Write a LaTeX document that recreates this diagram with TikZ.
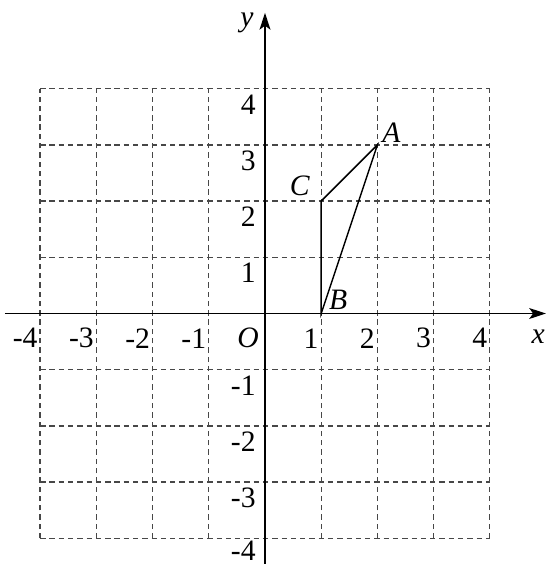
\documentclass[tikz,border=0pt]{standalone}
\usepackage{fontspec}
\setmainfont{Liberation Serif}
\usetikzlibrary{arrows.meta}
\begin{document}
\begin{tikzpicture}[x=1cm,y=1cm,
  gridline/.style={draw=black!72, line width=0.7pt, dash pattern=on 2.7pt off 2pt},
  axisline/.style={draw=black, line width=0.9pt, -{Stealth[length=8.5pt,width=5.5pt,inset=2pt]}},
  edge/.style={draw=black, line width=0.75pt},
  tick/.style={font=\fontsize{15pt}{17pt}\selectfont, inner sep=0pt},
  lab/.style={font=\fontsize{15pt}{17pt}\selectfont\itshape, inner sep=0pt}]
\useasboundingbox (-4.715,-4.457) rectangle (5.071,5.578);
% grid
\foreach \i in {-4,...,4} {
  \draw[gridline] (\i,-4) -- (\i,4);
  \draw[gridline] (-4,\i) -- (4,\i);
}
% axes
\coordinate (xs) at (-4.63,0);
\coordinate (xe) at (5.0,0);
\coordinate (ys) at (0,-4.46);
\coordinate (ye) at (0,5.35);
\draw[axisline] (xs) -- (xe);
\draw[axisline] (ys) -- (ye);
\node[lab] (xl) at (4.86,-0.42) {x};
\node[lab] (yl) at (-0.32,5.17) {y};
\node[lab] (O) at (-0.30,-0.44) {O};
% tick labels
\foreach \i in {-4,-3,-2,-1,1,2,3,4} {
  \node[tick, anchor=east] (xt\i) at (\i-0.04,-0.44) {\i};
}
\foreach \j in {-3,-2,-1,1,2,3,4} {
  \node[tick, anchor=east] (yt\j) at (-0.16,\j-0.28) {\j};
}
\node[tick, anchor=east] (yt-4) at (-0.16,-4.22) {-4};
% triangle
\coordinate (A) at (2,3);
\coordinate (B) at (1,0);
\coordinate (C) at (1,2);
\draw[edge] (A) -- (B) -- (C) -- cycle;
\node[lab] (Al) at (2.25,3.21) {A};
\node[lab] (Bl) at (1.30,0.24) {B};
\node[lab] (Cl) at (0.62,2.27) {C};
\end{tikzpicture}
\end{document}
